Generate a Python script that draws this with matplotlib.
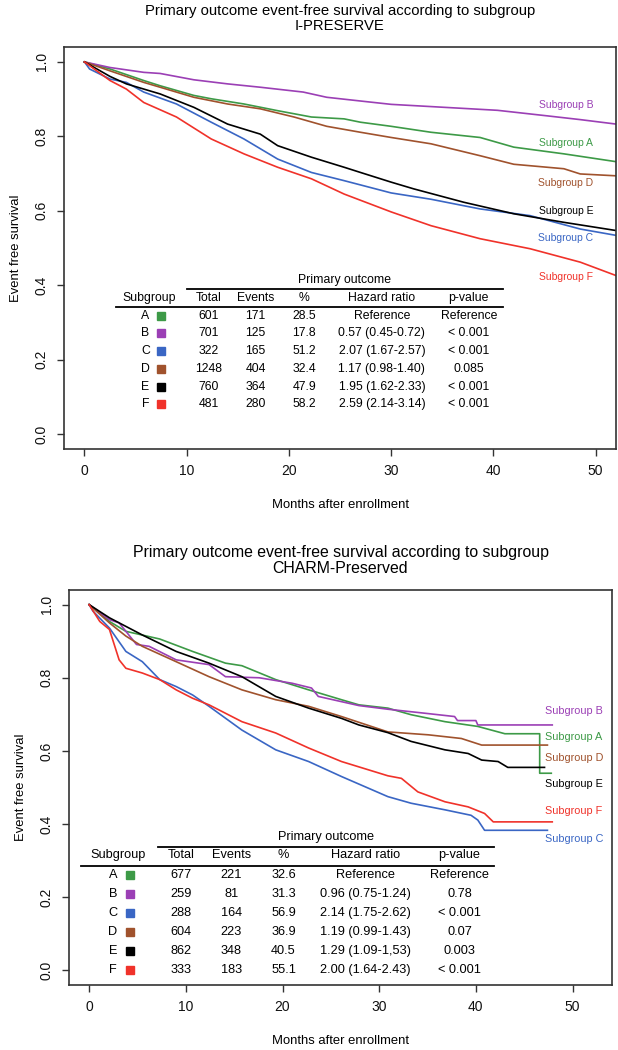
import matplotlib.pyplot as plt

plt.rcParams["font.family"] = ["Liberation Sans", "DejaVu Sans"]

subgroups = ["A", "B", "C", "D", "E", "F"]
colors = ["#3d9a47", "#9b3fb5", "#3a66c4", "#a0522d", "#000000", "#f0322a"]

# I-PRESERVE curves (months, event free survival)
ip_a_month = [0, 2.5, 5.8, 7.4, 10.7, 12.4, 15.6, 18.9, 22.2, 25.4, 27, 30, 33.9, 38.7, 42, 46.9, 52]
ip_a_surv = [1, 0.981, 0.950, 0.936, 0.910, 0.901, 0.887, 0.869, 0.852, 0.847, 0.838, 0.827, 0.811, 0.797, 0.771, 0.753, 0.732]
ip_b_month = [0, 2.5, 5.8, 7.4, 10.7, 14, 17.2, 21.4, 23.7, 27, 30, 40.4, 45.3, 48.5, 52]
ip_b_surv = [1, 0.985, 0.972, 0.969, 0.952, 0.941, 0.932, 0.919, 0.905, 0.895, 0.886, 0.870, 0.855, 0.845, 0.833]
ip_c_month = [0, 0.5, 2.5, 4.1, 5.8, 9, 12.4, 15.6, 18.9, 22.2, 25.4, 30, 33.9, 38.7, 43.6, 48.5, 52]
ip_c_surv = [1, 0.981, 0.954, 0.945, 0.919, 0.887, 0.838, 0.793, 0.739, 0.703, 0.681, 0.648, 0.631, 0.605, 0.587, 0.551, 0.534]
ip_d_month = [0, 2.5, 5.8, 7.4, 10.7, 14, 17.2, 20.5, 23.7, 27, 30, 33.9, 38.7, 42, 46.9, 48.5, 52]
ip_d_surv = [1, 0.976, 0.945, 0.932, 0.905, 0.887, 0.874, 0.852, 0.827, 0.811, 0.797, 0.780, 0.748, 0.725, 0.713, 0.699, 0.694]
ip_e_month = [0, 2.5, 4.1, 7.4, 10.7, 14, 17.2, 18.9, 22.2, 25.4, 27, 30, 32.2, 37.1, 42, 46.9, 52]
ip_e_surv = [1, 0.961, 0.941, 0.914, 0.878, 0.833, 0.806, 0.775, 0.744, 0.717, 0.703, 0.677, 0.659, 0.623, 0.592, 0.569, 0.547]
ip_f_month = [0, 2.5, 4.1, 5.8, 9, 12.4, 15.6, 18.9, 22.2, 25.4, 30, 33.9, 38.7, 43.6, 48.5, 52]
ip_f_surv = [1, 0.950, 0.927, 0.891, 0.852, 0.793, 0.753, 0.717, 0.686, 0.645, 0.597, 0.560, 0.525, 0.498, 0.462, 0.426]

# CHARM-Preserved curves
ch_a_month = [0, 2.1, 3.8, 7.3, 10.7, 14.1, 15.8, 19.3, 22.7, 26.1, 27.9, 30.9, 33.3, 36.8, 40.2, 41.6, 43, 46.6, 46.6, 47.8]
ch_a_surv = [1, 0.954, 0.927, 0.906, 0.872, 0.840, 0.833, 0.795, 0.767, 0.740, 0.726, 0.717, 0.699, 0.680, 0.667, 0.657, 0.647, 0.647, 0.539, 0.539]
ch_b_month = [0, 2.1, 3.1, 4.9, 6.2, 9, 12.4, 14.1, 17.6, 21, 23, 23.7, 27.9, 30.9, 34.4, 37.8, 38.1, 40, 40.2, 47.9]
ch_b_surv = [1, 0.959, 0.950, 0.891, 0.886, 0.849, 0.836, 0.803, 0.800, 0.785, 0.772, 0.749, 0.724, 0.714, 0.704, 0.694, 0.683, 0.683, 0.671, 0.671]
ch_c_month = [0, 0.4, 2.1, 3.8, 5.5, 7.3, 9, 10.7, 12.4, 15.8, 19.3, 22.7, 26.1, 30.9, 33.3, 36.8, 39.5, 40.2, 40.9, 47.4]
ch_c_surv = [1, 0.982, 0.936, 0.872, 0.844, 0.795, 0.776, 0.753, 0.722, 0.657, 0.603, 0.571, 0.530, 0.475, 0.457, 0.439, 0.424, 0.411, 0.383, 0.383]
ch_d_month = [0, 2.1, 3.8, 5.5, 9, 12.4, 15.8, 19.3, 22.7, 26.1, 30.9, 35.1, 38.5, 40.6, 47.4]
ch_d_surv = [1, 0.950, 0.914, 0.886, 0.844, 0.803, 0.767, 0.740, 0.722, 0.694, 0.652, 0.644, 0.634, 0.616, 0.616]
ch_e_month = [0, 2.1, 5.5, 9, 12.4, 15.8, 19.3, 22.7, 26.1, 27.9, 30.9, 33.3, 36.8, 39.2, 40.6, 42.3, 43.3, 47.1]
ch_e_surv = [1, 0.964, 0.917, 0.872, 0.840, 0.803, 0.749, 0.717, 0.689, 0.671, 0.650, 0.626, 0.603, 0.593, 0.575, 0.571, 0.555, 0.555]
ch_f_month = [0, 1.1, 2.1, 3.1, 3.8, 5.5, 7.3, 9, 10.7, 12.4, 15.8, 19.3, 22.7, 26.1, 30.9, 32.3, 34, 36.8, 39.2, 40.9, 41.8, 47.9]
ch_f_surv = [1, 0.954, 0.932, 0.849, 0.826, 0.813, 0.795, 0.767, 0.744, 0.726, 0.680, 0.649, 0.608, 0.571, 0.532, 0.525, 0.488, 0.461, 0.447, 0.429, 0.406, 0.406]

# curve end labels (x, y in data units)
ip_label_x = 47.1
ip_label_y = [0.783, 0.884, 0.526, 0.674, 0.600, 0.421]
ch_label_x = 47.1
ch_label_y = [0.639, 0.708, 0.359, 0.580, 0.510, 0.436]

# tables
ip_total = ["601", "701", "322", "1248", "760", "481"]
ip_events = ["171", "125", "165", "404", "364", "280"]
ip_pct = ["28.5", "17.8", "51.2", "32.4", "47.9", "58.2"]
ip_hr = ["Reference", "0.57 (0.45-0.72)", "2.07 (1.67-2.57)", "1.17 (0.98-1.40)",
         "1.95 (1.62-2.33)", "2.59 (2.14-3.14)"]
ip_p = ["Reference", "< 0.001", "< 0.001", "0.085", "< 0.001", "< 0.001"]

ch_total = ["677", "259", "288", "604", "862", "333"]
ch_events = ["221", "81", "164", "223", "348", "183"]
ch_pct = ["32.6", "31.3", "56.9", "36.9", "40.5", "55.1"]
ch_hr = ["Reference", "0.96 (0.75-1.24)", "2.14 (1.75-2.62)", "1.19 (0.99-1.43)",
         "1.29 (1.09-1,53)", "2.00 (1.64-2.43)"]
ch_p = ["Reference", "0.78", "< 0.001", "0.07", "0.003", "< 0.001"]

fig = plt.figure(figsize=(6.18, 10.5), dpi=100)
frame = "#333333"


def setup_axes(ax, xlim, title, title_size):
    ax.set_xlim(*xlim)
    ax.set_ylim(-0.04, 1.04)
    ax.set_xticks([0, 10, 20, 30, 40, 50])
    ax.set_yticks([0, 0.2, 0.4, 0.6, 0.8, 1.0])
    ax.set_yticklabels(["0.0", "0.2", "0.4", "0.6", "0.8", "1.0"], rotation=90, va="center")
    ax.tick_params(direction="out", length=5, width=1, color=frame, labelsize=10,
                   labelcolor="#111111", pad=6)
    for s in ax.spines.values():
        s.set_color(frame)
        s.set_linewidth(1.2)
    ax.set_xlabel("Months after enrollment", fontsize=9.4, labelpad=15)
    ax.set_ylabel("Event free survival", fontsize=9.4, labelpad=9)
    ax.set_title(title, fontsize=title_size, pad=12, linespacing=1.1)


def draw_table(ax, rows_y, cols, head_y, po_y, line_hi, line_lo, total, events, pct, hr, p, fs):
    x_sub, x_let, x_sq, x_tot, x_ev, x_pct, x_hr, x_p = cols
    ax.text((line_hi[0] + line_hi[1]) / 2, po_y, "Primary outcome", ha="center", va="center", fontsize=fs)
    ax.plot(line_hi[:2], [line_hi[2]] * 2, color="black", lw=1.3)
    ax.plot(line_lo[:2], [line_lo[2]] * 2, color="black", lw=1.3)
    heads = [(x_sub, "Subgroup"), (x_tot, "Total"), (x_ev, "Events"), (x_pct, "%"),
             (x_hr, "Hazard ratio"), (x_p, "p-value")]
    for x, t in heads:
        ax.text(x, head_y, t, ha="center", va="center", fontsize=fs)
    for i, y in enumerate(rows_y):
        ax.text(x_let, y, subgroups[i], ha="center", va="center", fontsize=fs)
        ax.plot([x_sq], [y], marker="s", markersize=5.5, color=colors[i], linestyle="none")
        ax.text(x_tot, y, total[i], ha="center", va="center", fontsize=fs)
        ax.text(x_ev, y, events[i], ha="center", va="center", fontsize=fs)
        ax.text(x_pct, y, pct[i], ha="center", va="center", fontsize=fs)
        ax.text(x_hr, y, hr[i], ha="center", va="center", fontsize=fs)
        ax.text(x_p, y, p[i], ha="center", va="center", fontsize=fs)


# ---- top panel: I-PRESERVE ----
ax1 = fig.add_axes([0.1036, 0.5724, 0.8932, 0.3828])
setup_axes(ax1, (-2, 52), "Primary outcome event-free survival according to subgroup\nI-PRESERVE", 10.7)

ip_curves = [(ip_a_month, ip_a_surv), (ip_b_month, ip_b_surv), (ip_c_month, ip_c_surv),
             (ip_d_month, ip_d_surv), (ip_e_month, ip_e_surv), (ip_f_month, ip_f_surv)]
for (m, s), c in zip(ip_curves, colors):
    ax1.plot(m, s, color=c, lw=1.2)
for i, y in enumerate(ip_label_y):
    ax1.text(ip_label_x, y, "Subgroup " + subgroups[i], color=colors[i], fontsize=7.5,
             ha="center", va="center")

draw_table(ax1,
           rows_y=[0.318, 0.271, 0.223, 0.175, 0.127, 0.080],
           cols=[6.29, 5.97, 7.53, 12.16, 16.73, 21.5, 29.1, 37.6],
           head_y=0.367, po_y=0.414,
           line_hi=[10.05, 40.9, 0.389], line_lo=[3.13, 40.9, 0.342],
           total=ip_total, events=ip_events, pct=ip_pct, hr=ip_hr, p=ip_p, fs=8.8)

# ---- bottom panel: CHARM-Preserved ----
ax2 = fig.add_axes([0.1117, 0.0619, 0.8786, 0.3762])
setup_axes(ax2, (-2.08, 54.08), "Primary outcome event-free survival according to subgroup\nCHARM-Preserved", 11.4)

ch_curves = [(ch_a_month, ch_a_surv), (ch_b_month, ch_b_surv), (ch_c_month, ch_c_surv),
             (ch_d_month, ch_d_surv), (ch_e_month, ch_e_surv), (ch_f_month, ch_f_surv)]
for (m, s), c in zip(ch_curves, colors):
    ax2.plot(m, s, color=c, lw=1.2)
for i, y in enumerate(ch_label_y):
    ax2.text(ch_label_x, y, "Subgroup " + subgroups[i], color=colors[i], fontsize=7.8,
             ha="left", va="center")

draw_table(ax2,
           rows_y=[0.260, 0.208, 0.157, 0.105, 0.053, 0.0],
           cols=[2.97, 2.45, 4.27, 9.5, 14.7, 20.1, 28.6, 38.3],
           head_y=0.315, po_y=0.365,
           line_hi=[7.16, 41.9, 0.338], line_lo=[-0.8, 41.9, 0.286],
           total=ch_total, events=ch_events, pct=ch_pct, hr=ch_hr, p=ch_p, fs=9.2)

fig.savefig("out.png", dpi=100)
plt.close(fig)
